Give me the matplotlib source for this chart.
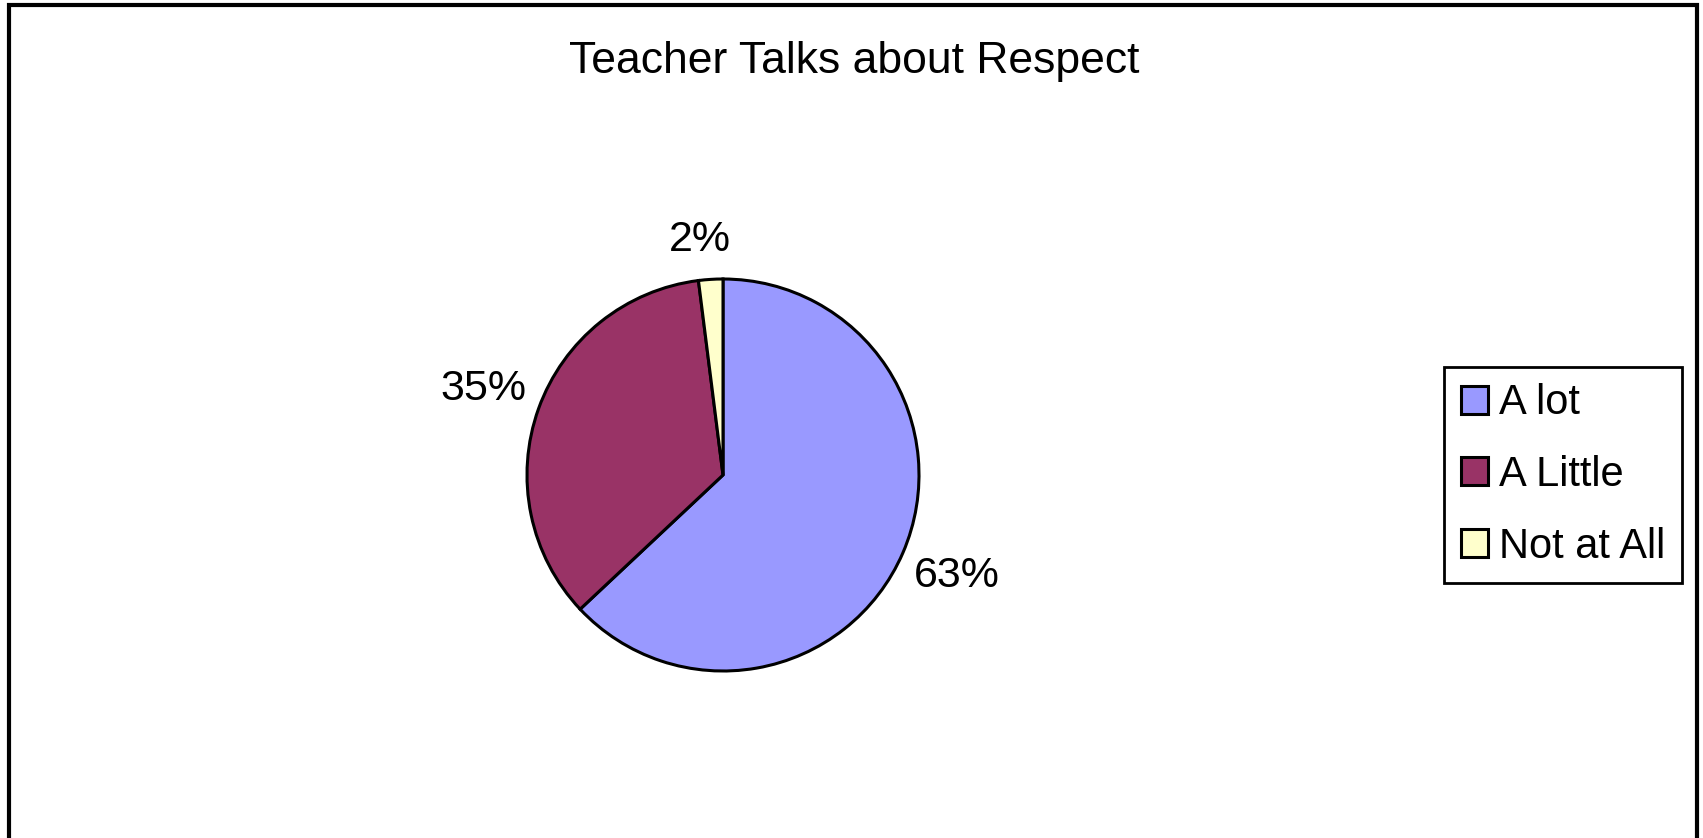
import matplotlib
matplotlib.use("Agg")
import matplotlib.pyplot as plt
from matplotlib.patches import Rectangle

plt.rcParams['font.family'] = ['Liberation Sans', 'DejaVu Sans']

# Data
categories = ['A lot', 'A Little', 'Not at All']
values = [63, 35, 2]
colors = ['#9999FF', '#993366', '#FFFFCC']
title = 'Teacher Talks about Respect'

W, H = 1703, 838
fig = plt.figure(figsize=(W / 100, H / 100), dpi=100)

# outer chart frame (bottom edge runs off the image)
fig.patches.append(Rectangle((9 / W, -0.05), (1697 - 9) / W, 1.05 - 5 / H,
                             transform=fig.transFigure, fill=False,
                             edgecolor='black', linewidth=3))

# pie axes: center (723, 475) px, radius 196 px
cx, cy, r = 723, 475, 196
ax = fig.add_axes([(cx - r) / W, (H - cy - r) / H, 2 * r / W, 2 * r / H])
wedges, texts, autotexts = ax.pie(values, colors=colors, startangle=90, counterclock=False,
                                  autopct='%1.0f%%', pctdistance=1.3,
                                  wedgeprops=dict(edgecolor='black', linewidth=2.2),
                                  textprops=dict(fontsize=31))
ax.set_xlim(-1, 1)
ax.set_ylim(-1, 1)
# small slice label sits closer to the rim
autotexts[2].set_position((-0.12, 1.2))

fig.text(854 / W, 1 - 62 / H, title, ha='center', va='center', fontsize=32)

leg = fig.legend(wedges, categories, loc='center', bbox_to_anchor=(1563 / W, 1 - 475 / H),
                 fontsize=30, frameon=True, fancybox=False, framealpha=1,
                 edgecolor='black', handlelength=0.65, handleheight=0.65,
                 handletextpad=0.25, labelspacing=0.76, borderpad=0.4)
leg.get_frame().set_linewidth(2)

fig.savefig('out.png', dpi=100)
